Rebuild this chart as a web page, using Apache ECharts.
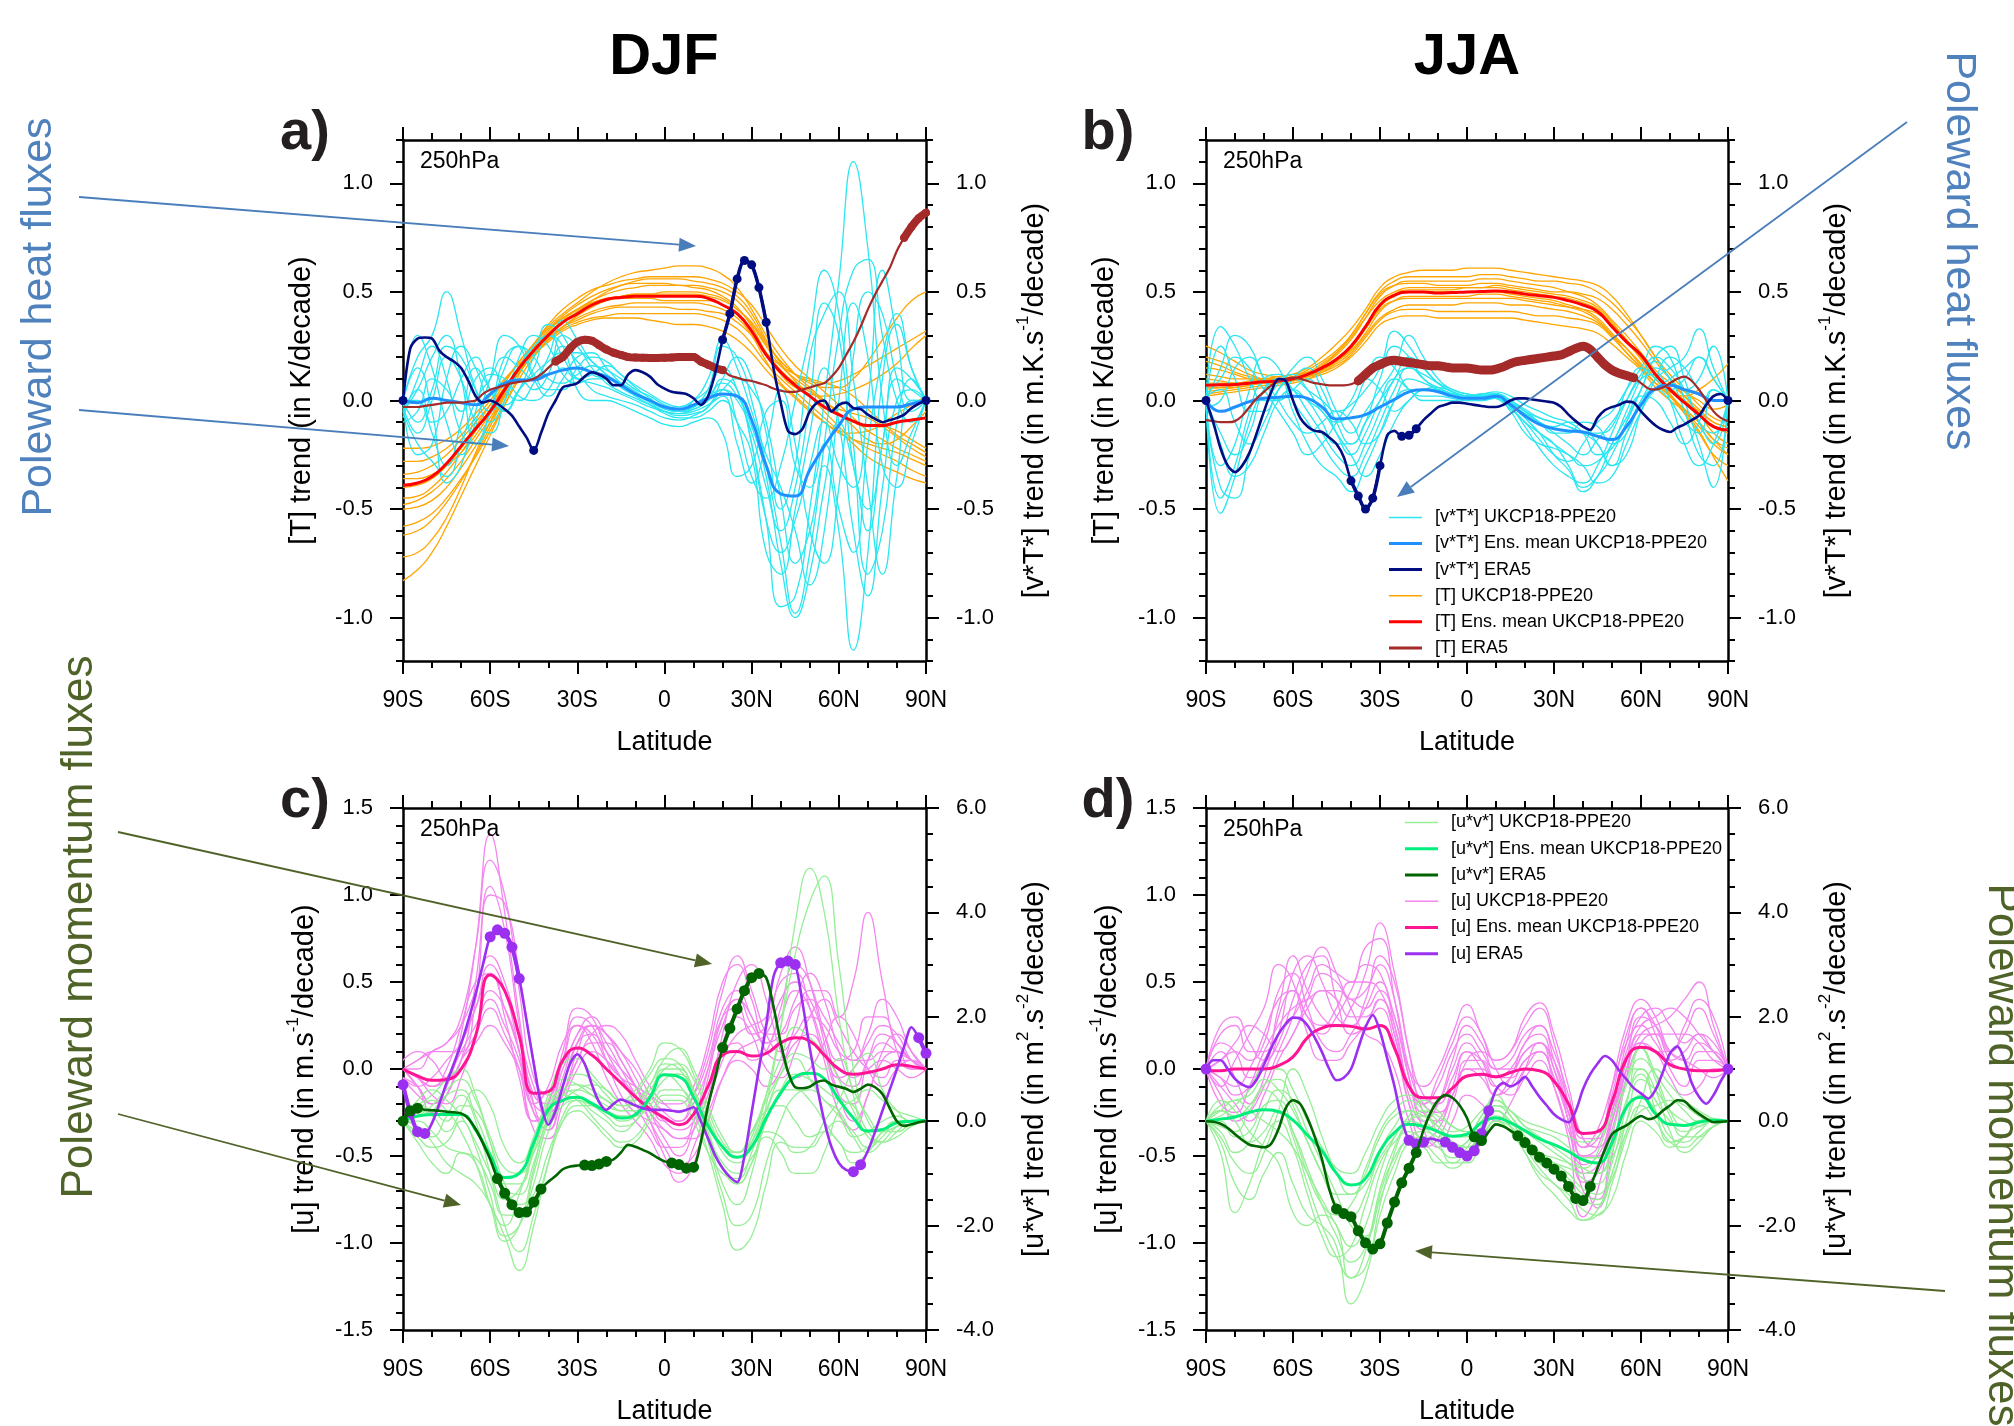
<!DOCTYPE html>
<html><head><meta charset="utf-8">
<script src="https://cdn.jsdelivr.net/npm/echarts@6/dist/echarts.min.js"></script>
<style>html,body{margin:0;padding:0;background:#fff}#c{width:2014px;height:1426px}</style>
</head><body><div id="c"></div>
<script>
// ---------- coordinates / ticks ----------
const lat5 = [-90,-85,-80,-75,-70,-65,-60,-55,-50,-45,-40,-35,-30,-25,-20,-15,-10,-5,0,5,10,15,20,25,30,35,40,45,50,55,60,65,70,75,80,85,90];
const lat25 = [-90,-87.5,-85,-82.5,-80,-77.5,-75,-72.5,-70,-67.5,-65,-62.5,-60,-57.5,-55,-52.5,-50,-47.5,-45,-42.5,-40,-37.5,-35,-32.5,-30,-27.5,-25,-22.5,-20,-17.5,-15,-12.5,-10,-7.5,-5,-2.5,0,2.5,5,7.5,10,12.5,15,17.5,20,22.5,25,27.5,30,32.5,35,37.5,40,42.5,45,47.5,50,52.5,55,57.5,60,62.5,65,67.5,70,72.5,75,77.5,80,82.5,85,87.5,90];
const xTickValues = [-90,-60,-30,0,30,60,90];
const xTickLabels = ['90S','60S','30S','0','30N','60N','90N'];
const yMajorAB = [-1.0,-0.5,0.0,0.5,1.0];

// ---------- panel a (DJF, [T] & [v*T*]) ----------
const tMeanA = [-0.39,-0.38,-0.35,-0.29,-0.21,-0.13,-0.05,0.05,0.15,0.23,0.30,0.36,0.40,0.44,0.465,0.475,0.48,0.48,0.48,0.48,0.48,0.47,0.44,0.40,0.32,0.21,0.13,0.07,0.02,-0.03,-0.065,-0.095,-0.115,-0.115,-0.10,-0.09,-0.08];
const vtMeanA = [0,-0.01,0.01,0.0,-0.01,-0.02,0.03,0.08,0.094,0.095,0.12,0.14,0.15,0.13,0.11,0.07,0.03,0.0,-0.03,-0.04,-0.02,0.01,0.03,0.02,-0.09,-0.3,-0.43,-0.44,-0.32,-0.21,-0.115,-0.04,-0.03,-0.03,-0.03,-0.015,0];
const vtEraA = [0,0.24,0.285,0.29,0.285,0.23,0.2,0.18,0.15,0.09,0.02,-0.01,0.0,-0.015,-0.04,-0.07,-0.12,-0.17,-0.23,-0.15,-0.06,0.0,0.06,0.07,0.08,0.11,0.13,0.12,0.10,0.07,0.07,0.12,0.14,0.13,0.11,0.075,0.055,0.04,0.035,0.03,0.01,-0.02,0.02,0.13,0.28,0.40,0.56,0.645,0.625,0.52,0.36,0.15,-0.01,-0.14,-0.155,-0.13,-0.05,-0.01,0.0,-0.05,-0.02,-0.01,-0.035,-0.04,-0.065,-0.085,-0.1,-0.09,-0.08,-0.065,-0.035,-0.015,0];
const tEraA = [-0.03,-0.03,-0.03,-0.025,-0.02,-0.015,-0.01,-0.01,-0.01,-0.005,0.0,0.03,0.05,0.06,0.07,0.08,0.086,0.09,0.10,0.12,0.15,0.18,0.2,0.24,0.27,0.28,0.275,0.255,0.235,0.22,0.21,0.2,0.198,0.197,0.196,0.196,0.197,0.198,0.2,0.2,0.2,0.18,0.165,0.15,0.14,0.115,0.105,0.095,0.09,0.08,0.07,0.055,0.045,0.04,0.04,0.05,0.06,0.07,0.08,0.11,0.15,0.21,0.27,0.34,0.42,0.49,0.55,0.61,0.69,0.75,0.8,0.84,0.865];
const sigVtA = [[-90,-90],[-45,-45],[20,35],[90,90]];
const sigTA = [[-37.5,20],[82.5,90]];
const tMemA = [
[-0.83,-0.78,-0.70,-0.58,-0.44,-0.30,-0.16,-0.02,0.12,0.24,0.32,0.38,0.42,0.46,0.50,0.53,0.55,0.56,0.56,0.56,0.55,0.54,0.52,0.48,0.40,0.28,0.17,0.09,0.02,-0.05,-0.12,-0.18,-0.22,-0.25,-0.28,-0.32,-0.35],
[-0.72,-0.70,-0.64,-0.54,-0.40,-0.24,-0.10,0.04,0.16,0.26,0.34,0.40,0.45,0.50,0.54,0.57,0.59,0.60,0.61,0.62,0.62,0.61,0.58,0.52,0.42,0.30,0.20,0.12,0.06,0.00,-0.06,-0.10,-0.12,-0.10,-0.06,-0.02,0.02],
[-0.58,-0.56,-0.52,-0.45,-0.36,-0.26,-0.14,-0.02,0.10,0.20,0.28,0.34,0.38,0.41,0.43,0.44,0.45,0.45,0.45,0.45,0.45,0.44,0.42,0.38,0.30,0.18,0.08,0.02,-0.04,-0.10,-0.15,-0.18,-0.20,-0.22,-0.24,-0.27,-0.30],
[-0.50,-0.49,-0.46,-0.40,-0.31,-0.21,-0.10,0.02,0.14,0.24,0.31,0.37,0.42,0.46,0.49,0.51,0.52,0.53,0.53,0.53,0.52,0.51,0.48,0.43,0.34,0.22,0.12,0.06,0.03,0.02,0.03,0.05,0.08,0.12,0.17,0.24,0.30],
[-0.45,-0.44,-0.40,-0.33,-0.24,-0.14,-0.04,0.06,0.15,0.22,0.28,0.33,0.36,0.38,0.39,0.40,0.40,0.40,0.40,0.40,0.40,0.39,0.37,0.33,0.26,0.17,0.10,0.04,-0.02,-0.08,-0.14,-0.20,-0.26,-0.30,-0.33,-0.36,-0.38],
[-0.40,-0.39,-0.36,-0.30,-0.22,-0.12,-0.02,0.08,0.18,0.26,0.33,0.38,0.42,0.45,0.47,0.48,0.49,0.49,0.50,0.50,0.50,0.49,0.47,0.42,0.36,0.26,0.18,0.12,0.08,0.06,0.06,0.10,0.18,0.28,0.38,0.46,0.50],
[-0.34,-0.33,-0.30,-0.25,-0.18,-0.10,-0.02,0.06,0.14,0.21,0.27,0.32,0.35,0.37,0.38,0.38,0.38,0.37,0.36,0.35,0.35,0.34,0.32,0.28,0.22,0.14,0.07,0.01,-0.05,-0.10,-0.14,-0.15,-0.14,-0.12,-0.14,-0.18,-0.22],
[-0.28,-0.28,-0.26,-0.22,-0.16,-0.08,0.00,0.09,0.18,0.26,0.33,0.39,0.44,0.48,0.51,0.53,0.54,0.54,0.54,0.53,0.53,0.52,0.50,0.46,0.38,0.27,0.18,0.12,0.09,0.08,0.09,0.12,0.16,0.20,0.24,0.28,0.32],
[-0.22,-0.22,-0.21,-0.18,-0.13,-0.06,0.02,0.10,0.17,0.23,0.29,0.34,0.37,0.40,0.42,0.43,0.43,0.43,0.43,0.42,0.42,0.41,0.40,0.36,0.30,0.22,0.16,0.12,0.10,0.08,0.06,0.02,-0.04,-0.10,-0.16,-0.20,-0.24],
[-0.62,-0.60,-0.55,-0.47,-0.37,-0.25,-0.12,0.02,0.15,0.26,0.35,0.42,0.47,0.51,0.53,0.55,0.56,0.57,0.57,0.57,0.57,0.56,0.54,0.50,0.44,0.34,0.24,0.16,0.10,0.04,-0.02,-0.08,-0.14,-0.18,-0.22,-0.25,-0.28],
[-0.36,-0.36,-0.34,-0.30,-0.24,-0.16,-0.06,0.04,0.13,0.21,0.28,0.34,0.39,0.43,0.46,0.47,0.47,0.47,0.46,0.46,0.46,0.46,0.44,0.40,0.32,0.22,0.14,0.08,0.04,0.00,-0.06,-0.12,-0.18,-0.20,-0.18,-0.12,-0.05],
[-0.48,-0.46,-0.42,-0.36,-0.28,-0.18,-0.08,0.03,0.13,0.22,0.30,0.36,0.41,0.45,0.47,0.48,0.49,0.49,0.49,0.49,0.49,0.48,0.46,0.42,0.35,0.25,0.16,0.10,0.05,-0.01,-0.04,-0.06,-0.08,-0.12,-0.17,-0.22,-0.26]
];
const vtMemA = [
[0.0,0.20,0.30,0.50,0.30,0.05,-0.10,0.00,0.15,0.25,0.30,0.20,0.10,0.08,0.06,0.03,0.00,-0.03,-0.05,-0.06,-0.04,0.00,0.10,0.05,-0.20,-0.55,-0.95,-0.90,-0.50,0.00,0.55,1.10,0.70,0.00,-0.30,-0.15,0.0],
[-0.05,-0.20,-0.28,-0.35,-0.20,0.00,0.10,0.20,0.15,0.10,0.15,0.25,0.18,0.12,0.10,0.08,0.04,0.00,-0.04,-0.05,-0.03,0.02,0.05,-0.10,-0.35,-0.45,-0.30,0.00,0.30,0.60,0.40,-0.20,-0.80,-0.60,-0.10,0.10,0.0],
[-0.08,0.10,0.25,0.10,-0.15,-0.20,-0.05,0.15,0.25,0.20,0.10,0.08,0.12,0.16,0.14,0.10,0.05,0.02,-0.02,-0.04,-0.02,0.05,0.25,0.20,0.00,-0.30,-0.65,-0.98,-0.70,-0.20,0.30,0.60,0.65,0.30,0.00,-0.10,0.0],
[0.0,-0.10,0.05,0.25,0.20,0.05,-0.05,0.05,0.10,0.05,0.12,0.30,0.25,0.15,0.08,0.04,0.01,-0.02,-0.05,-0.06,-0.05,-0.02,0.02,-0.20,-0.38,-0.20,0.05,-0.20,-0.60,-0.75,-0.40,0.20,0.50,0.40,0.10,-0.05,0.0],
[-0.05,0.05,-0.15,-0.30,-0.10,0.15,0.05,-0.05,0.05,0.20,0.35,0.30,0.15,0.05,0.02,0.00,-0.02,-0.05,-0.08,-0.09,-0.07,-0.03,0.05,0.10,0.05,-0.10,-0.45,-0.75,-0.60,-0.30,-0.60,-1.15,-0.70,0.10,0.35,0.15,0.0],
[0.0,0.30,0.15,-0.10,-0.25,-0.10,0.10,0.30,0.25,0.10,0.02,0.10,0.20,0.22,0.15,0.08,0.03,0.00,-0.03,-0.05,-0.04,0.00,0.05,0.00,-0.15,-0.40,-0.60,-0.40,0.00,0.45,0.30,-0.30,-0.50,-0.20,0.15,0.10,0.0],
[-0.10,-0.05,0.10,0.05,-0.05,0.10,0.15,0.05,0.00,0.08,0.20,0.37,0.28,0.18,0.12,0.06,0.02,-0.02,-0.06,-0.08,-0.08,-0.05,0.00,-0.10,-0.25,-0.70,-0.80,-0.50,-0.15,0.15,-0.10,-0.60,-0.90,-0.40,0.00,0.05,0.0],
[0.0,0.15,-0.05,-0.38,-0.30,-0.05,0.12,0.10,0.02,0.00,0.05,0.15,0.10,0.12,0.16,0.12,0.06,0.01,-0.03,-0.04,0.00,0.10,0.28,0.15,-0.05,-0.25,-0.40,-0.60,-0.85,-0.60,0.00,0.45,0.20,-0.30,-0.40,-0.20,0.0],
[-0.03,-0.15,0.00,0.20,0.10,-0.10,-0.15,0.00,0.20,0.30,0.25,0.12,0.08,0.10,0.10,0.07,0.03,-0.01,-0.05,-0.07,-0.06,-0.03,0.10,0.20,0.10,-0.15,-0.50,-0.30,0.20,0.40,0.50,0.10,-0.40,-0.80,-0.35,0.00,0.0],
[0.0,-0.25,-0.20,0.10,0.25,0.15,0.00,-0.02,0.05,0.15,0.30,0.25,0.05,0.00,0.00,-0.02,-0.05,-0.08,-0.11,-0.12,-0.10,-0.08,-0.15,-0.35,-0.30,-0.05,0.00,-0.30,-0.40,-0.20,-0.50,-0.70,-0.20,0.20,0.40,0.15,0.0],
[-0.05,0.05,0.20,0.30,0.10,-0.20,-0.05,0.20,0.25,0.12,0.05,0.05,0.15,0.20,0.18,0.12,0.07,0.03,-0.01,-0.03,0.00,0.05,0.15,0.05,-0.20,-0.55,-0.70,-0.55,-0.30,-0.10,-0.30,-0.40,0.00,0.60,0.30,0.00,0.0],
[0.0,0.00,-0.10,-0.05,0.10,0.20,0.05,-0.05,0.05,0.12,0.18,0.22,0.22,0.18,0.12,0.08,0.04,0.00,-0.03,-0.04,-0.03,0.02,0.08,0.02,-0.12,-0.35,-0.75,-1.00,-0.80,-0.40,-0.10,-0.30,-0.60,-0.20,0.10,0.05,0.0]
];

// ---------- panel b (JJA, [T] & [v*T*]) ----------
const tMeanB = [0.07,0.072,0.074,0.08,0.086,0.09,0.10,0.12,0.15,0.19,0.25,0.34,0.44,0.485,0.50,0.50,0.495,0.497,0.50,0.502,0.504,0.50,0.49,0.483,0.475,0.46,0.44,0.41,0.34,0.27,0.21,0.12,0.05,-0.01,-0.065,-0.12,-0.135];
const vtMeanB = [0,-0.05,-0.03,-0.005,0.01,0.015,0.02,0.01,-0.03,-0.085,-0.08,-0.065,-0.03,0.005,0.04,0.05,0.04,0.02,0.01,0.01,0.02,-0.02,-0.07,-0.11,-0.13,-0.14,-0.145,-0.165,-0.18,-0.12,-0.02,0.055,0.07,0.05,0.03,0.0,0.0];
const vtEraB = [0,-0.1,-0.22,-0.3,-0.33,-0.3,-0.24,-0.15,-0.05,0.04,0.1,0.09,0.0,-0.08,-0.12,-0.14,-0.145,-0.17,-0.2,-0.26,-0.37,-0.44,-0.5,-0.45,-0.3,-0.16,-0.14,-0.165,-0.16,-0.13,-0.09,-0.06,-0.03,-0.02,-0.01,-0.01,-0.015,-0.02,-0.025,-0.03,-0.03,-0.02,0.0,0.01,0.01,0.005,0.0,-0.005,-0.01,-0.03,-0.065,-0.095,-0.12,-0.135,-0.08,-0.045,-0.03,-0.02,-0.005,-0.01,-0.05,-0.085,-0.115,-0.135,-0.145,-0.125,-0.11,-0.09,-0.07,-0.02,0.02,0.03,0];
const tEraB = [-0.09,-0.095,-0.1,-0.1,-0.095,-0.07,-0.03,0.01,0.04,0.07,0.09,0.1,0.105,0.1,0.09,0.08,0.075,0.07,0.07,0.07,0.075,0.09,0.12,0.15,0.165,0.18,0.185,0.18,0.175,0.17,0.165,0.16,0.16,0.155,0.15,0.15,0.15,0.145,0.14,0.14,0.145,0.155,0.17,0.18,0.185,0.19,0.195,0.2,0.205,0.21,0.225,0.24,0.25,0.235,0.2,0.165,0.14,0.125,0.115,0.105,0.08,0.055,0.05,0.06,0.08,0.1,0.11,0.09,0.05,0.0,-0.05,-0.08,-0.095];
const sigVtB = [[-90,-90],[-40,-30],[-22.5,-17.5],[90,90]];
const sigTB = [[-37.5,57.5]];
const tMemB = [
[0.25,0.22,0.18,0.14,0.12,0.11,0.12,0.15,0.20,0.26,0.33,0.42,0.52,0.57,0.59,0.60,0.60,0.60,0.61,0.61,0.61,0.60,0.59,0.58,0.57,0.56,0.55,0.53,0.48,0.40,0.30,0.20,0.12,0.05,-0.02,-0.08,-0.10],
[0.02,0.03,0.04,0.05,0.06,0.07,0.08,0.10,0.13,0.17,0.22,0.30,0.38,0.42,0.44,0.44,0.44,0.44,0.45,0.45,0.45,0.44,0.44,0.43,0.42,0.41,0.39,0.36,0.30,0.24,0.17,0.10,0.02,-0.06,-0.15,-0.25,-0.30],
[0.15,0.14,0.12,0.10,0.09,0.09,0.10,0.12,0.16,0.21,0.28,0.38,0.48,0.53,0.55,0.55,0.55,0.55,0.55,0.56,0.56,0.55,0.54,0.53,0.52,0.50,0.48,0.44,0.37,0.30,0.22,0.14,0.08,0.02,-0.04,-0.10,-0.12],
[0.05,0.06,0.06,0.07,0.08,0.08,0.09,0.10,0.12,0.15,0.20,0.27,0.35,0.38,0.39,0.39,0.38,0.38,0.38,0.38,0.38,0.38,0.37,0.36,0.35,0.34,0.33,0.31,0.26,0.20,0.14,0.06,0.00,-0.05,-0.12,-0.20,-0.25],
[0.10,0.09,0.08,0.08,0.09,0.10,0.11,0.14,0.18,0.23,0.30,0.40,0.50,0.55,0.57,0.57,0.57,0.57,0.57,0.58,0.58,0.57,0.56,0.55,0.55,0.54,0.53,0.50,0.45,0.38,0.30,0.20,0.10,0.02,-0.06,-0.15,-0.20],
[0.08,0.08,0.08,0.09,0.10,0.11,0.12,0.13,0.15,0.18,0.23,0.31,0.41,0.46,0.48,0.48,0.48,0.48,0.48,0.49,0.49,0.48,0.47,0.46,0.45,0.43,0.41,0.37,0.30,0.22,0.15,0.08,0.04,0.02,0.05,0.10,0.17],
[0.04,0.05,0.06,0.07,0.08,0.09,0.10,0.11,0.13,0.16,0.21,0.29,0.37,0.41,0.42,0.42,0.41,0.41,0.41,0.41,0.41,0.41,0.40,0.39,0.39,0.38,0.37,0.35,0.29,0.22,0.15,0.08,0.02,-0.04,-0.10,-0.18,-0.22],
[0.20,0.18,0.15,0.12,0.10,0.10,0.10,0.12,0.16,0.22,0.30,0.40,0.49,0.53,0.54,0.54,0.53,0.53,0.53,0.54,0.54,0.53,0.52,0.51,0.50,0.50,0.49,0.47,0.42,0.35,0.27,0.18,0.10,0.04,0.00,-0.04,-0.02],
[0.06,0.06,0.07,0.08,0.09,0.10,0.10,0.12,0.14,0.18,0.24,0.34,0.44,0.49,0.51,0.51,0.51,0.51,0.52,0.52,0.52,0.51,0.50,0.49,0.48,0.47,0.45,0.42,0.35,0.27,0.19,0.10,0.03,-0.05,-0.14,-0.26,-0.37],
[0.12,0.11,0.10,0.10,0.10,0.10,0.11,0.13,0.17,0.22,0.29,0.38,0.46,0.50,0.52,0.52,0.52,0.52,0.52,0.52,0.53,0.52,0.51,0.50,0.49,0.48,0.46,0.43,0.36,0.28,0.20,0.12,0.06,0.00,-0.06,-0.12,-0.15],
[0.03,0.04,0.05,0.06,0.07,0.08,0.09,0.11,0.14,0.19,0.25,0.33,0.42,0.46,0.47,0.47,0.47,0.47,0.47,0.47,0.47,0.47,0.46,0.45,0.44,0.43,0.42,0.40,0.35,0.28,0.20,0.12,0.05,0.00,-0.05,-0.10,-0.12],
[0.18,0.16,0.13,0.11,0.10,0.10,0.10,0.11,0.14,0.18,0.24,0.33,0.43,0.48,0.50,0.50,0.50,0.50,0.50,0.50,0.50,0.49,0.48,0.47,0.46,0.44,0.42,0.38,0.31,0.24,0.16,0.08,0.02,-0.04,-0.10,-0.18,-0.25]
];
const vtMemB = [
[0.0,-0.52,-0.35,-0.10,0.05,0.10,0.05,-0.05,-0.15,-0.25,-0.30,-0.20,-0.05,0.10,0.15,0.10,0.05,0.03,0.02,0.02,0.03,-0.02,-0.08,-0.15,-0.20,-0.25,-0.30,-0.28,-0.20,-0.05,0.10,0.20,0.15,0.05,-0.10,-0.20,0.0],
[0.02,0.34,0.25,0.10,0.00,0.00,0.10,0.15,0.05,-0.10,-0.20,-0.10,0.10,0.25,0.20,0.10,0.06,0.03,0.01,0.00,0.02,-0.01,-0.05,-0.10,-0.15,-0.15,-0.10,-0.12,-0.20,-0.15,0.00,0.10,0.15,0.20,0.33,0.15,0.0],
[-0.03,-0.40,-0.45,-0.25,-0.05,0.08,0.12,0.05,-0.05,-0.10,-0.05,0.10,0.20,0.15,0.05,0.02,0.02,0.01,0.00,0.01,0.02,-0.03,-0.10,-0.15,-0.20,-0.30,-0.40,-0.35,-0.25,-0.10,0.05,0.15,0.10,-0.05,-0.25,-0.30,0.0],
[0.0,0.15,0.30,0.25,0.10,0.00,-0.10,-0.15,-0.10,-0.05,-0.10,-0.20,-0.15,0.00,0.10,0.08,0.05,0.03,0.02,0.03,0.03,0.00,-0.05,-0.08,-0.10,-0.12,-0.15,-0.20,-0.30,-0.25,-0.05,0.10,0.20,0.15,0.05,0.00,0.0],
[0.0,-0.30,-0.20,0.05,0.20,0.15,0.00,-0.10,-0.20,-0.30,-0.35,-0.25,-0.10,0.05,0.15,0.12,0.08,0.05,0.03,0.02,0.01,-0.04,-0.10,-0.18,-0.25,-0.28,-0.20,-0.10,-0.05,0.05,0.15,0.25,0.20,0.00,-0.20,-0.40,0.0],
[0.02,0.05,-0.10,-0.20,-0.10,0.05,0.15,0.20,0.10,-0.05,-0.15,-0.05,0.05,0.15,0.30,0.20,0.10,0.05,0.03,0.02,0.03,0.00,-0.05,-0.10,-0.12,-0.10,-0.12,-0.20,-0.30,-0.15,0.00,0.05,0.00,-0.10,-0.15,0.05,0.0],
[-0.02,-0.20,-0.35,-0.30,-0.15,0.00,0.05,0.00,-0.05,-0.15,-0.25,-0.35,-0.25,-0.10,0.00,0.05,0.06,0.04,0.02,0.02,0.02,-0.03,-0.12,-0.22,-0.30,-0.35,-0.38,-0.30,-0.15,0.00,0.12,0.18,0.10,0.05,0.10,0.25,0.0],
[0.0,0.25,0.10,-0.05,-0.05,0.05,0.10,0.05,0.00,-0.05,-0.02,0.05,0.15,0.32,0.25,0.15,0.08,0.04,0.02,0.01,0.01,-0.02,-0.06,-0.10,-0.15,-0.20,-0.25,-0.18,-0.10,0.00,0.10,0.12,0.00,-0.20,-0.30,-0.20,0.0],
[0.0,-0.15,-0.25,-0.15,0.05,0.10,-0.05,-0.20,-0.30,-0.35,-0.42,-0.30,-0.15,0.00,0.05,0.05,0.04,0.02,0.00,0.00,0.01,-0.05,-0.15,-0.20,-0.22,-0.25,-0.30,-0.38,-0.35,-0.20,-0.05,0.05,0.10,0.15,0.20,0.10,0.0],
[0.03,0.10,0.20,0.15,0.05,-0.05,-0.15,-0.25,-0.20,-0.10,0.00,0.10,0.05,-0.05,0.00,0.05,0.05,0.03,0.02,0.03,0.04,0.02,-0.02,-0.05,-0.08,-0.10,-0.15,-0.25,-0.22,-0.10,0.05,0.20,0.25,0.10,-0.10,-0.15,0.0],
[0.0,-0.45,-0.30,-0.05,0.10,0.12,0.05,0.00,-0.10,-0.20,-0.20,-0.10,0.00,0.10,0.20,0.15,0.08,0.04,0.02,0.01,0.02,-0.01,-0.08,-0.15,-0.25,-0.32,-0.42,-0.35,-0.20,-0.08,0.02,0.00,-0.10,-0.20,-0.10,0.05,0.0],
[-0.03,0.00,0.15,0.20,0.10,0.00,0.05,0.10,0.00,-0.15,-0.25,-0.15,0.00,0.10,0.05,0.00,0.00,0.00,0.01,0.02,0.03,0.00,-0.04,-0.08,-0.10,-0.12,-0.15,-0.15,-0.12,0.05,0.15,0.10,0.05,0.10,0.20,0.10,0.0]
];

// ---------- panel c (DJF, [u] & [u*v*]) ----------
const uMeanC = [0.0,-0.04,-0.065,-0.06,0.0,0.19,0.54,0.45,0.19,-0.14,-0.13,0.05,0.12,0.08,0.0,-0.08,-0.16,-0.23,-0.28,-0.32,-0.26,-0.1,0.08,0.1,0.075,0.09,0.15,0.18,0.16,0.08,0.0,-0.03,-0.02,0.0,0.025,0.015,0.0];
const uvMeanC = [0,0.1,0.13,0.13,0.13,-0.17,-0.65,-1.08,-1.0,-0.41,0.22,0.4,0.46,0.34,0.18,0.06,0.13,0.46,0.89,0.85,0.46,-0.09,-0.49,-0.69,-0.49,0.06,0.54,0.85,0.92,0.81,0.42,0.06,-0.19,-0.16,-0.03,0.0,0.02];
const uEraC = [-0.09,-0.25,-0.36,-0.37,-0.31,-0.2,-0.08,0.03,0.145,0.28,0.43,0.6,0.76,0.8,0.78,0.7,0.52,0.28,0.03,-0.2,-0.32,-0.24,-0.1,0.03,0.085,0.03,-0.09,-0.19,-0.235,-0.2,-0.175,-0.19,-0.21,-0.225,-0.235,-0.235,-0.235,-0.24,-0.245,-0.235,-0.22,-0.3,-0.4,-0.5,-0.57,-0.62,-0.65,-0.5,-0.25,0.0,0.25,0.53,0.61,0.62,0.6,0.38,0.12,-0.1,-0.3,-0.45,-0.54,-0.58,-0.59,-0.55,-0.47,-0.36,-0.24,-0.12,0.0,0.13,0.24,0.18,0.09];
const uvEraC = [0.0,0.2,0.25,0.22,0.21,0.2,0.18,0.17,0.15,0.05,-0.15,-0.42,-0.73,-1.1,-1.38,-1.6,-1.75,-1.74,-1.55,-1.3,-1.16,-1.05,-0.92,-0.87,-0.85,-0.84,-0.85,-0.82,-0.77,-0.73,-0.6,-0.45,-0.49,-0.55,-0.61,-0.7,-0.77,-0.8,-0.83,-0.9,-0.88,-0.4,0.3,0.85,1.41,1.78,2.15,2.5,2.75,2.83,2.75,2.2,1.5,0.95,0.65,0.63,0.66,0.75,0.78,0.7,0.66,0.62,0.56,0.62,0.7,0.65,0.52,0.25,0.0,-0.09,-0.06,-0.02,0.0];
const sigUC = [[-90,-82.5],[-60,-50],[40,45],[65,67.5],[87.5,90]];
const sigUvC = [[-90,-85],[-57.5,-42.5],[-27.5,-20],[2.5,10],[20,32.5]];
const uMemC = [
[0.0,-0.10,-0.20,-0.10,0.20,0.70,1.35,0.90,0.30,-0.20,-0.35,-0.10,0.15,0.20,0.10,0.00,-0.10,-0.25,-0.40,-0.50,-0.35,-0.05,0.30,0.40,0.25,0.15,0.30,0.45,0.35,0.10,-0.15,-0.20,0.05,0.20,0.15,0.05,0.0],
[0.0,0.05,0.10,0.10,0.10,0.40,1.00,0.95,0.55,0.05,-0.30,-0.15,0.10,0.25,0.20,0.05,-0.10,-0.30,-0.50,-0.65,-0.55,-0.20,0.20,0.50,0.60,0.40,0.10,-0.05,0.00,0.15,0.30,0.20,0.00,-0.10,0.00,0.05,0.0],
[-0.05,-0.10,-0.05,0.05,0.15,0.35,0.60,0.45,0.10,-0.30,-0.25,0.05,0.30,0.25,0.05,-0.15,-0.25,-0.30,-0.35,-0.40,-0.35,-0.15,0.10,0.15,0.05,0.10,0.35,0.60,0.50,0.20,-0.05,-0.10,0.05,0.15,0.10,0.05,0.0],
[0.0,-0.05,-0.15,-0.20,-0.05,0.20,0.45,0.35,0.10,-0.25,-0.35,-0.15,0.05,0.15,0.15,0.05,-0.10,-0.20,-0.30,-0.35,-0.30,-0.10,0.15,0.30,0.20,0.00,-0.05,0.10,0.30,0.40,0.25,0.10,0.00,-0.05,0.05,0.05,0.0],
[0.05,0.10,0.05,-0.05,0.05,0.50,1.05,0.80,0.25,-0.15,-0.20,0.00,0.20,0.30,0.20,0.10,0.00,-0.15,-0.25,-0.30,-0.15,0.10,0.45,0.65,0.45,0.20,0.10,0.20,0.30,0.25,0.10,0.05,0.20,0.40,0.30,0.10,0.0],
[0.0,-0.05,-0.10,0.00,0.25,0.50,0.55,0.30,-0.05,-0.30,-0.20,0.10,0.35,0.30,0.10,-0.05,-0.20,-0.35,-0.45,-0.45,-0.30,0.00,0.30,0.35,0.20,0.25,0.55,0.70,0.50,0.15,-0.15,-0.30,-0.15,0.10,0.20,0.10,0.0],
[-0.05,-0.10,-0.20,-0.15,0.05,0.20,0.35,0.20,0.00,-0.35,-0.40,-0.20,0.00,0.10,0.05,-0.05,-0.15,-0.25,-0.35,-0.40,-0.40,-0.25,-0.05,0.05,0.00,-0.10,0.00,0.25,0.45,0.45,0.30,0.50,0.90,0.50,0.10,0.00,0.0],
[0.0,0.00,0.10,0.15,0.30,0.70,1.20,1.00,0.45,-0.05,-0.15,0.05,0.25,0.20,0.05,-0.05,-0.10,-0.15,-0.20,-0.20,-0.10,0.15,0.50,0.60,0.40,0.20,0.20,0.35,0.40,0.30,0.15,0.05,0.05,0.10,0.10,0.05,0.0],
[0.0,-0.05,-0.10,-0.05,0.10,0.25,0.40,0.25,0.05,-0.25,-0.30,-0.10,0.15,0.25,0.20,0.10,-0.05,-0.20,-0.30,-0.30,-0.20,0.00,0.25,0.40,0.30,0.10,0.05,0.15,0.20,0.10,-0.05,0.00,0.15,0.25,0.20,0.05,0.0],
[0.0,-0.10,-0.25,-0.15,0.05,0.15,0.25,0.15,0.00,-0.20,-0.10,0.15,0.25,0.15,-0.05,-0.20,-0.30,-0.40,-0.55,-0.60,-0.45,-0.20,0.05,0.20,0.25,0.30,0.50,0.55,0.35,0.05,-0.25,-0.35,-0.15,0.05,0.10,0.00,0.0],
[0.0,0.05,0.10,0.15,0.25,0.45,0.65,0.50,0.20,-0.10,-0.25,-0.15,0.05,0.20,0.25,0.20,0.05,-0.10,-0.20,-0.25,-0.15,0.05,0.35,0.45,0.30,0.15,0.20,0.40,0.55,0.40,0.10,-0.05,0.00,0.05,0.00,-0.05,0.0],
[-0.05,-0.15,-0.20,-0.10,0.15,0.35,0.55,0.35,0.10,-0.20,-0.25,-0.05,0.20,0.25,0.15,0.00,-0.15,-0.30,-0.45,-0.55,-0.50,-0.30,-0.05,0.10,0.15,0.20,0.40,0.50,0.40,0.20,0.05,0.10,0.30,0.30,0.15,0.05,0.0]
];
const uvMemC = [
[0.0,0.30,0.50,0.80,1.00,0.50,-0.40,-1.20,-1.20,-0.50,0.40,0.80,0.70,0.50,0.30,0.20,0.50,0.90,1.20,1.10,0.60,-0.30,-1.20,-1.60,-1.00,0.30,1.80,3.80,4.85,4.00,2.00,0.50,-0.30,-0.40,-0.20,0.00,0.0],
[0.0,-0.30,-0.50,-0.40,0.00,-0.50,-1.40,-2.20,-2.00,-1.20,-0.20,0.30,0.40,0.20,0.00,-0.20,0.00,0.40,0.80,0.90,0.60,0.00,-0.60,-0.80,-0.40,0.50,1.80,3.20,4.20,4.70,3.00,1.00,0.00,-0.20,-0.10,0.00,0.0],
[0.0,0.20,0.40,0.20,-0.20,-0.80,-1.60,-2.00,-1.40,-0.50,0.30,0.60,0.50,0.30,0.20,0.10,0.10,0.30,0.60,0.60,0.30,-0.30,-0.90,-1.20,-0.80,0.00,0.60,0.90,0.80,0.60,0.40,0.30,-0.20,-0.40,-0.30,-0.10,0.0],
[0.0,0.10,0.30,0.60,0.80,0.40,-0.30,-0.90,-1.00,-0.60,0.00,0.40,0.60,0.70,0.60,0.40,0.40,0.70,1.20,1.40,1.00,0.30,-0.30,-0.60,-0.40,0.20,0.60,0.60,0.40,0.00,-0.40,-0.60,-0.50,-0.20,0.00,0.00,0.0],
[0.0,-0.20,-0.30,0.10,0.50,0.00,-1.00,-2.00,-2.50,-1.80,-0.80,0.00,0.30,0.30,0.20,0.00,0.10,0.50,1.00,1.00,0.50,-0.40,-1.40,-2.00,-1.80,-0.80,0.00,0.50,0.60,0.40,0.10,-0.20,-0.50,-0.30,0.00,0.00,0.0],
[0.0,0.40,0.60,0.40,0.10,-0.40,-1.00,-1.50,-1.30,-0.60,0.20,0.70,0.90,0.80,0.50,0.30,0.30,0.60,1.00,1.10,0.80,0.20,-0.40,-0.60,-0.20,0.40,0.90,1.20,0.80,0.40,0.20,-0.30,-0.60,-0.40,-0.10,0.00,0.0],
[0.0,-0.10,-0.40,-0.80,-1.00,-1.20,-1.60,-2.20,-2.86,-2.00,-0.80,0.10,0.40,0.30,0.10,-0.10,0.00,0.40,0.90,0.70,0.20,-0.60,-1.60,-2.47,-2.20,-1.20,-0.40,-0.50,-0.50,-0.20,0.00,-0.30,-0.20,0.00,0.10,0.00,0.0],
[0.0,0.20,0.10,-0.20,0.20,0.60,0.30,-0.50,-0.80,-0.30,0.50,1.10,1.20,0.90,0.60,0.40,0.60,1.00,1.50,1.40,0.90,0.10,-0.50,-0.70,-0.30,0.50,1.20,1.80,1.60,1.30,0.80,0.20,-0.20,-0.20,-0.10,0.00,0.0],
[0.0,0.00,-0.20,-0.50,-0.60,-0.70,-1.20,-1.80,-1.80,-1.00,0.00,0.50,0.40,0.10,-0.20,-0.40,-0.30,0.10,0.50,0.50,0.20,-0.30,-0.80,-1.00,-0.70,-0.30,-0.60,-1.00,-1.00,-0.60,0.20,0.40,0.60,0.40,0.20,0.10,0.0],
[0.0,0.30,0.20,0.00,0.30,0.20,-0.40,-1.20,-1.60,-1.40,-0.60,0.00,0.20,0.00,-0.30,-0.50,-0.40,0.00,0.40,0.40,0.00,-0.60,-1.00,-1.10,-0.60,0.20,0.90,1.30,1.20,1.00,1.20,0.60,0.10,-0.20,-0.20,-0.05,0.0],
[0.0,-0.40,-0.80,-1.00,-0.60,-0.80,-1.60,-2.30,-2.00,-0.90,0.10,0.50,0.60,0.50,0.40,0.20,0.20,0.50,0.90,0.90,0.60,0.00,-0.50,-0.60,-0.20,0.20,0.30,0.00,-0.30,-0.20,-0.40,-0.80,-0.60,-0.20,0.00,0.00,0.0],
[0.0,0.10,0.20,0.50,0.60,0.10,-0.60,-1.30,-1.40,-0.80,0.10,0.60,0.70,0.60,0.40,0.30,0.40,0.70,1.10,1.00,0.50,-0.20,-0.90,-1.20,-0.80,-0.20,-0.30,-0.60,-0.50,0.00,0.40,1.00,1.30,0.60,0.20,0.00,0.0]
];

// ---------- panel d (JJA, [u] & [u*v*]) ----------
const uMeanD = [-0.01,-0.01,0.0,0.0,0.0,0.02,0.07,0.18,0.235,0.25,0.245,0.23,0.25,0.12,-0.1,-0.165,-0.165,-0.11,-0.04,-0.03,-0.045,-0.02,0.0,-0.01,-0.07,-0.2,-0.37,-0.36,-0.19,0.06,0.125,0.1,0.025,0.0,-0.01,-0.01,0.0];
const uvMeanD = [0,0.04,0.08,0.17,0.22,0.18,0.02,-0.27,-0.57,-1.0,-1.22,-1.1,-0.57,-0.22,-0.06,-0.1,-0.2,-0.29,-0.25,-0.03,0.06,-0.03,-0.18,-0.34,-0.45,-0.58,-0.74,-0.8,-0.41,0.27,0.46,0.14,-0.06,-0.08,-0.02,0.02,0];
const uEraD = [0.0,0.05,0.05,0.0,-0.057,-0.09,-0.104,-0.06,0.026,0.12,0.2,0.26,0.295,0.29,0.25,0.18,0.097,0.0,-0.065,-0.05,0.0,0.12,0.24,0.31,0.216,0.06,-0.1,-0.29,-0.41,-0.43,-0.42,-0.4,-0.41,-0.42,-0.45,-0.48,-0.5,-0.47,-0.37,-0.24,-0.12,-0.08,-0.1,-0.08,-0.045,-0.1,-0.16,-0.21,-0.26,-0.29,-0.306,-0.24,-0.116,-0.03,0.03,0.075,0.05,-0.01,-0.06,-0.11,-0.14,-0.17,-0.12,-0.02,0.09,0.13,0.05,-0.08,-0.16,-0.2,-0.15,-0.07,0.0];
const uvEraD = [0.0,-0.01,-0.05,-0.13,-0.25,-0.36,-0.45,-0.48,-0.5,-0.43,-0.15,0.25,0.4,0.33,0.06,-0.3,-0.73,-1.3,-1.68,-1.77,-1.83,-2.1,-2.33,-2.45,-2.35,-1.95,-1.55,-1.18,-0.9,-0.6,-0.17,0.17,0.4,0.5,0.45,0.3,0.06,-0.3,-0.37,-0.2,-0.06,-0.1,-0.18,-0.28,-0.41,-0.55,-0.69,-0.8,-0.92,-1.05,-1.25,-1.48,-1.52,-1.25,-0.9,-0.55,-0.25,-0.15,-0.08,0.02,0.1,0.04,0.08,0.2,0.3,0.4,0.38,0.25,0.14,0.05,-0.02,-0.01,0.0];
const sigUD = [[-90,-90],[-20,-15],[-7.5,7.5],[90,90]];
const sigUvD = [[-45,-17.5],[2.5,5],[17.5,42.5]];
const uMemD = [
[0.0,0.20,0.25,0.10,0.10,0.35,0.65,0.45,0.30,0.25,0.35,0.55,0.84,0.55,0.10,-0.25,-0.30,-0.10,0.10,0.00,-0.15,-0.05,0.15,0.20,0.00,-0.30,-0.60,-0.55,-0.25,0.15,0.35,0.25,0.05,0.00,0.10,0.10,0.0],
[0.0,-0.15,-0.30,-0.25,-0.10,0.10,0.30,0.55,0.70,0.55,0.35,0.20,0.15,0.00,-0.30,-0.45,-0.40,-0.20,0.05,0.10,0.05,0.10,0.25,0.35,0.15,-0.20,-0.50,-0.45,-0.10,0.25,0.40,0.30,0.10,0.05,0.15,0.10,0.0],
[0.0,0.10,-0.05,-0.20,-0.05,0.30,0.45,0.30,0.20,0.30,0.45,0.60,0.55,0.25,-0.10,-0.20,-0.05,0.15,0.30,0.20,0.00,-0.10,0.00,0.10,-0.05,-0.30,-0.70,-0.75,-0.40,0.00,0.20,0.25,0.30,0.40,0.50,0.25,0.0],
[0.0,-0.10,0.05,0.20,0.35,0.60,0.50,0.20,0.05,0.05,0.15,0.25,0.35,0.15,-0.20,-0.35,-0.30,-0.15,0.00,0.00,-0.10,-0.15,-0.05,0.05,-0.10,-0.35,-0.55,-0.50,-0.30,0.00,0.15,0.10,-0.05,-0.15,-0.10,0.00,0.0],
[0.0,0.05,0.15,0.25,0.20,0.10,0.20,0.40,0.55,0.50,0.40,0.45,0.60,0.40,0.00,-0.20,-0.25,-0.15,0.05,0.05,-0.05,0.00,0.15,0.25,0.10,-0.15,-0.40,-0.40,-0.20,0.10,0.30,0.35,0.25,0.15,0.20,0.15,0.0],
[0.0,-0.20,-0.25,-0.10,0.10,0.25,0.35,0.40,0.45,0.40,0.30,0.30,0.40,0.20,-0.15,-0.30,-0.20,0.05,0.25,0.15,0.00,0.05,0.20,0.25,0.05,-0.25,-0.60,-0.80,-0.50,-0.05,0.20,0.20,0.10,0.20,0.35,0.20,0.0],
[0.0,0.15,0.10,-0.05,0.00,0.20,0.55,0.65,0.50,0.30,0.25,0.40,0.65,0.50,0.10,-0.15,-0.20,-0.05,0.10,0.05,-0.05,-0.05,0.05,0.10,-0.05,-0.25,-0.45,-0.40,-0.15,0.20,0.35,0.20,0.00,-0.10,0.05,0.05,0.0],
[0.0,-0.05,-0.15,-0.10,0.05,0.20,0.30,0.45,0.60,0.55,0.50,0.70,0.75,0.40,-0.05,-0.35,-0.45,-0.30,-0.15,-0.20,-0.30,-0.20,0.00,0.15,0.05,-0.20,-0.45,-0.35,-0.10,0.15,0.25,0.15,0.05,0.10,0.20,0.10,0.0],
[0.0,0.05,0.10,0.05,0.15,0.45,0.55,0.35,0.15,0.10,0.20,0.35,0.50,0.30,0.00,-0.10,0.00,0.20,0.37,0.20,0.05,0.10,0.30,0.38,0.20,-0.10,-0.40,-0.45,-0.25,0.05,0.25,0.30,0.35,0.30,0.20,0.10,0.0],
[0.0,-0.10,-0.20,-0.30,-0.15,0.05,0.20,0.35,0.45,0.45,0.40,0.35,0.45,0.30,-0.05,-0.25,-0.20,0.00,0.15,0.05,-0.10,-0.05,0.10,0.15,-0.10,-0.40,-0.85,-0.70,-0.30,0.05,0.30,0.25,0.10,0.05,0.00,-0.05,0.0],
[0.0,0.25,0.30,0.15,0.05,0.15,0.40,0.60,0.65,0.40,0.20,0.25,0.40,0.25,-0.10,-0.20,-0.10,0.10,0.20,0.10,0.00,0.00,0.10,0.15,0.00,-0.25,-0.50,-0.50,-0.30,0.00,0.15,0.10,0.10,0.25,0.40,0.30,0.0],
[0.0,-0.05,-0.10,0.00,0.20,0.40,0.45,0.30,0.25,0.35,0.50,0.50,0.45,0.20,-0.20,-0.40,-0.35,-0.15,0.00,-0.05,-0.15,-0.10,0.05,0.10,-0.05,-0.30,-0.65,-0.60,-0.35,-0.05,0.15,0.20,0.20,0.20,0.15,0.05,0.0]
];
const uvMemD = [
[0.0,-0.40,-1.20,-1.50,-1.00,-0.60,-1.20,-1.80,-2.00,-2.40,-3.50,-3.00,-1.80,-1.00,-0.40,-0.30,-0.50,-0.70,-0.60,-0.20,0.20,0.00,-0.40,-0.80,-1.00,-1.20,-1.50,-1.60,-1.00,0.00,0.80,0.60,0.20,0.00,-0.10,0.00,0.0],
[0.0,0.30,0.40,0.50,0.80,0.60,0.20,-0.40,-1.00,-1.60,-1.80,-1.40,-0.60,-0.10,0.20,0.10,-0.10,-0.30,-0.30,0.00,0.20,0.00,-0.20,-0.40,-0.60,-0.80,-1.10,-1.20,-0.60,0.40,0.90,0.40,0.00,-0.20,-0.10,0.00,0.0],
[0.0,-0.20,-0.60,-0.40,0.20,0.60,0.40,-0.20,-0.80,-1.40,-2.00,-2.20,-1.50,-0.80,-0.30,-0.20,-0.30,-0.50,-0.40,0.00,0.30,0.10,-0.30,-0.60,-0.80,-1.00,-1.30,-1.40,-0.80,0.30,1.40,0.80,0.10,-0.30,-0.30,-0.10,0.0],
[0.0,0.20,0.00,-0.40,-0.20,0.20,-0.20,-0.90,-1.60,-2.20,-2.70,-2.40,-1.30,-0.50,0.00,0.10,-0.10,-0.40,-0.50,-0.20,0.10,-0.10,-0.50,-0.90,-1.20,-1.40,-1.70,-1.80,-1.20,-0.20,0.30,0.00,-0.40,-0.50,-0.30,-0.10,0.0],
[0.0,0.10,0.30,0.60,1.00,1.00,0.60,0.00,-0.50,-0.90,-1.00,-0.60,0.00,0.40,0.50,0.30,0.00,-0.20,-0.10,0.20,0.40,0.20,-0.10,-0.20,-0.30,-0.50,-0.70,-0.70,-0.20,0.70,1.20,0.90,0.50,0.20,0.00,0.00,0.0],
[0.0,-0.60,-1.75,-1.20,-0.40,0.00,-0.50,-1.40,-2.20,-2.60,-2.40,-1.60,-0.80,-0.40,-0.20,-0.40,-0.70,-0.90,-0.70,-0.30,0.00,-0.20,-0.60,-1.00,-1.20,-1.50,-1.90,-1.70,-1.00,-0.20,0.20,0.30,0.40,0.30,0.10,0.00,0.0],
[0.0,0.00,-0.30,-0.20,0.30,0.40,-0.20,-1.00,-1.60,-1.80,-1.60,-1.00,-0.30,0.10,0.20,0.00,-0.20,-0.40,-0.50,-0.30,0.00,-0.20,-0.50,-0.70,-0.80,-0.90,-1.00,-1.00,-0.50,0.40,1.00,0.60,-0.20,-0.60,-0.40,-0.10,0.0],
[0.0,0.40,0.20,-0.20,-0.50,-0.80,-1.75,-2.00,-1.80,-2.00,-3.00,-2.80,-1.60,-0.60,0.00,0.20,0.10,-0.10,-0.20,0.00,0.30,0.20,-0.10,-0.30,-0.50,-0.70,-0.90,-1.00,-0.70,0.00,0.50,0.20,-0.30,-0.40,-0.20,0.00,0.0],
[0.0,-0.30,-0.80,-1.00,-0.60,0.20,1.00,0.50,-0.30,-1.00,-1.40,-1.20,-0.70,-0.30,0.00,-0.10,-0.40,-0.80,-0.80,-0.40,0.00,-0.10,-0.40,-0.70,-0.90,-1.10,-1.40,-1.50,-1.10,-0.30,0.40,1.00,0.70,0.40,0.20,0.05,0.0],
[0.0,0.20,0.40,0.20,0.00,-0.20,-0.50,-1.00,-1.50,-2.00,-2.40,-2.00,-1.00,-0.30,0.10,0.40,0.20,-0.10,-0.20,0.10,0.50,0.10,-0.30,-0.60,-0.70,-0.80,-0.90,-0.60,0.30,1.00,1.00,0.20,-0.40,-0.30,0.00,0.05,0.0],
[0.0,-0.10,-0.20,0.20,0.60,0.40,-0.30,-1.20,-2.00,-2.60,-3.00,-2.50,-1.40,-0.70,-0.40,-0.50,-0.80,-0.80,-0.50,-0.10,0.20,-0.10,-0.60,-1.10,-1.40,-1.70,-1.90,-1.80,-1.50,-0.60,0.00,-0.20,-0.50,-0.30,0.00,0.00,0.0],
[0.0,0.20,0.10,0.30,0.70,0.80,0.30,-0.40,-1.00,-1.40,-1.40,-0.90,-0.20,0.20,0.40,0.20,-0.20,-0.50,-0.40,0.10,0.40,0.20,0.00,-0.10,-0.20,-0.30,-0.40,-0.30,0.10,0.80,1.40,0.90,0.20,-0.10,0.00,0.00,0.0]
];

// ---------- styling ----------
const F = '"Liberation Sans", Arial, Helvetica, sans-serif';
const COL = {
  vtMem:'#2ae6f0', vtMean:'#1e90ff', vtEra:'#000d80',
  tMem:'#ffa500', tMean:'#ff0000', tEra:'#a52a2a',
  uvMem:'#96ee96', uvMean:'#00ee7c', uvEra:'#006400',
  uMem:'#f486ef', uMean:'#ff1493', uEra:'#9b30f0'
};
const panels = [
  {left:403, top:140, w:523, h:521, yl:[-1.2,1.2], yr:[-1.2,1.2], ab:true},
  {left:1206, top:140, w:522, h:521, yl:[-1.2,1.2], yr:[-1.2,1.2], ab:true},
  {left:403, top:808, w:523, h:522, yl:[-1.5,1.5], yr:[-4,6], ab:false},
  {left:1206, top:808, w:522, h:522, yl:[-1.5,1.5], yr:[-4,6], ab:false}
];

const grids=[], xAxes=[], yAxes=[], series=[];
const lineBlack = {color:'#000', width:2.5};
const tickBlack = {color:'#000', width:2};
panels.forEach((p,i)=>{
  grids.push({left:p.left, top:p.top, width:p.w, height:p.h, containLabel:false});
  const xb = {gridIndex:i, type:'value', min:-90, max:90, interval:30,
    axisLine:{show:true,onZero:false,lineStyle:lineBlack},
    axisTick:{show:true,length:13,lineStyle:tickBlack},
    minorTick:{show:true,splitNumber:3,length:7,lineStyle:tickBlack},
    splitLine:{show:false}, minorSplitLine:{show:false}};
  xAxes.push(Object.assign({}, xb, {position:'bottom',
    axisLabel:{show:true, margin:28, fontSize:23, color:'#000', fontFamily:F,
      formatter:v=>{const k=xTickValues.indexOf(v); return k>=0?xTickLabels[k]:'';}}}));
  xAxes.push(Object.assign({}, xb, {position:'top', axisLabel:{show:false}}));
  ['left','right'].forEach(side=>{
    const rng = side==='left'?p.yl:p.yr;
    const major = {gridIndex:i, type:'value', position:side, min:rng[0], max:rng[1],
      axisLine:{show:true,onZero:false,lineStyle:lineBlack},
      axisTick:{show:true,length:13,lineStyle:tickBlack},
      axisLabel:{show:true, margin:30, fontSize:22, color:'#000', fontFamily:F, formatter:v=>Number(v).toFixed(1)},
      splitLine:{show:false}};
    if(p.ab){
      major.axisTick.customValues = yMajorAB;
      major.axisLabel.customValues = yMajorAB;
    } else {
      major.interval = side==='left'?0.5:2;
    }
    yAxes.push(major);
    yAxes.push({gridIndex:i, type:'value', position:side, min:rng[0], max:rng[1],
      interval: (side==='right' && !p.ab)?0.5:0.1,
      axisLine:{show:false,onZero:false}, axisTick:{show:true,length:7,lineStyle:tickBlack},
      axisLabel:{show:false}, splitLine:{show:false}});
  });
});

function zip(xs, ys){ return xs.map((x,k)=>[x, ys[k]]); }
function sigData(xs, ys, ranges){
  return xs.map((x,k)=> ranges.some(r=> x>=r[0]-1e-6 && x<=r[1]+1e-6) ? [x, ys[k]] : [x, null]);
}
function addLine(pi, side, xs, ys, color, width, z, smooth){
  series.push({type:'line', xAxisIndex:2*pi, yAxisIndex:4*pi+(side==='left'?0:2),
    data:zip(xs,ys), showSymbol:false, smooth:smooth, silent:true, z:z,
    lineStyle:{color:color, width:width}, animation:false});
}
function addSig(pi, side, xs, ys, ranges, color, width, size, z){
  series.push({type:'line', xAxisIndex:2*pi, yAxisIndex:4*pi+(side==='left'?0:2),
    data:sigData(xs,ys,ranges), showSymbol:true, showAllSymbol:true, symbol:'circle', symbolSize:size,
    itemStyle:{color:color}, smooth:0.3, connectNulls:false, silent:true, z:z, clip:false,
    lineStyle:{color:color, width:width, cap:'round'}, animation:false});
}

// panel a
tMemA.forEach(m=>addLine(0,'left',lat5,m,COL.tMem,1.3,2,0.5));
vtMemA.forEach(m=>addLine(0,'right',lat5,m,COL.vtMem,1.3,3,0.5));
addLine(0,'left',lat5,tMeanA,COL.tMean,3,5,0.5);
addLine(0,'right',lat5,vtMeanA,COL.vtMean,3,6,0.5);
addLine(0,'left',lat25,tEraA,COL.tEra,2.2,7,0.3);
addSig(0,'left',lat25,tEraA,sigTA,COL.tEra,8,8,8);
addLine(0,'right',lat25,vtEraA,COL.vtEra,2.6,9,0.3);
addSig(0,'right',lat25,vtEraA,sigVtA,COL.vtEra,3.5,9,10);
// panel b
tMemB.forEach(m=>addLine(1,'left',lat5,m,COL.tMem,1.3,2,0.5));
vtMemB.forEach(m=>addLine(1,'right',lat5,m,COL.vtMem,1.3,3,0.5));
addLine(1,'left',lat5,tMeanB,COL.tMean,3,5,0.5);
addLine(1,'right',lat5,vtMeanB,COL.vtMean,3,6,0.5);
addLine(1,'left',lat25,tEraB,COL.tEra,2.2,7,0.3);
addSig(1,'left',lat25,tEraB,sigTB,COL.tEra,9,8,8);
addLine(1,'right',lat25,vtEraB,COL.vtEra,2.6,9,0.3);
addSig(1,'right',lat25,vtEraB,sigVtB,COL.vtEra,3.5,9,10);
// panel c
uMemC.forEach(m=>addLine(2,'left',lat5,m,COL.uMem,1.3,2,0.5));
uvMemC.forEach(m=>addLine(2,'right',lat5,m,COL.uvMem,1.3,3,0.5));
addLine(2,'left',lat5,uMeanC,COL.uMean,3,5,0.5);
addLine(2,'right',lat5,uvMeanC,COL.uvMean,3,6,0.5);
addLine(2,'left',lat25,uEraC,COL.uEra,2.6,7,0.3);
addSig(2,'left',lat25,uEraC,sigUC,COL.uEra,4,11,8);
addLine(2,'right',lat25,uvEraC,COL.uvEra,2.6,9,0.3);
addSig(2,'right',lat25,uvEraC,sigUvC,COL.uvEra,4,11,10);
// panel d
uMemD.forEach(m=>addLine(3,'left',lat5,m,COL.uMem,1.3,2,0.5));
uvMemD.forEach(m=>addLine(3,'right',lat5,m,COL.uvMem,1.3,3,0.5));
addLine(3,'left',lat5,uMeanD,COL.uMean,3,5,0.5);
addLine(3,'right',lat5,uvMeanD,COL.uvMean,3,6,0.5);
addLine(3,'left',lat25,uEraD,COL.uEra,2.6,7,0.3);
addSig(3,'left',lat25,uEraD,sigUD,COL.uEra,4,11,8);
addLine(3,'right',lat25,uvEraD,COL.uvEra,2.6,9,0.3);
addSig(3,'right',lat25,uvEraD,sigUvD,COL.uvEra,4,11,10);

// ---------- graphics: texts, legends, arrows ----------
const G = [];
function txt(x,y,text,size,opts){
  opts = opts||{};
  G.push({type:'text', x:x, y:y, rotation:opts.rot||0, z:100,
    style:{text:text, fontSize:size, fontFamily:opts.font||F, fontWeight:opts.weight||'normal',
      fill:opts.color||'#000', align:opts.align||'center', verticalAlign:'middle',
      rich:opts.rich}});
}
const supRich = {n:{fontSize:29, fontFamily:F, fill:'#000', lineHeight:34, verticalAlign:'bottom'},
                 s:{fontSize:17, fontFamily:F, fill:'#000', lineHeight:34, verticalAlign:'top', padding:[0,0,0,0]}};
txt(664,58,'DJF',58,{weight:'bold'});
txt(1467,58,'JJA',58,{weight:'bold'});
[['a)',0],['b)',1],['c)',2],['d)',3]].forEach(([t,i])=>{
  const p=panels[i];
  txt(p.left-98, p.top-6, t, 56, {weight:'bold', color:'#231f20'});
  txt(p.left+17, p.top+22, '250hPa', 23, {align:'left'});
  txt(p.left+p.w/2, p.top+p.h+82, 'Latitude', 27);
});
const leftTitles = ['[T] trend (in K/decade)','[T] trend (in K/decade)','{n|[u] trend (in m.s}{s|-1}{n|/decade)}','{n|[u] trend (in m.s}{s|-1}{n|/decade)}'];
const rightTitles = ['{n|[v*T*] trend (in m.K.s}{s|-1}{n|/decade)}','{n|[v*T*] trend (in m.K.s}{s|-1}{n|/decade)}','{n|[u*v*] trend (in m}{s|2}{n|.s}{s|-2}{n|/decade)}','{n|[u*v*] trend (in m}{s|2}{n|.s}{s|-2}{n|/decade)}'];
panels.forEach((p,i)=>{
  const cy = p.top+p.h/2;
  txt(p.left-101, cy, leftTitles[i], 29, {rot:Math.PI/2, rich:supRich});
  txt(p.left+p.w+106, cy, rightTitles[i], 29, {rot:Math.PI/2, rich:supRich});
});
// side annotations
txt(39,317,'Poleward heat fluxes',43,{rot:Math.PI/2, color:'#4f81bd'});
txt(1959,251,'Poleward heat fluxes',43,{rot:-Math.PI/2, color:'#4f81bd'});
txt(80,927,'Poleward momentum fluxes',44,{rot:Math.PI/2, color:'#4f6228'});
txt(2001,1155,'Poleward momentum fluxes',44,{rot:-Math.PI/2, color:'#4f6228'});
// arrows
function arrow(x1,y1,x2,y2,color){
  const dx=x2-x1, dy=y2-y1, len=Math.hypot(dx,dy), ux=dx/len, uy=dy/len, L=17, W=7;
  const bx=x2-ux*L, by=y2-uy*L;
  G.push({type:'line', z:101, shape:{x1:x1,y1:y1,x2:bx,y2:by}, style:{stroke:color, lineWidth:1.8}});
  G.push({type:'polygon', z:101, shape:{points:[[x2,y2],[bx-uy*W,by+ux*W],[bx+uy*W,by-ux*W]]}, style:{fill:color}});
}
const blue='#4a7ebb', olive='#4f6228';
arrow(79,197,696,246,blue);
arrow(79,410,509,446,blue);
arrow(1907,122,1397,497,blue);
arrow(118,832,712,964,olive);
arrow(118,1114,461,1205,olive);
arrow(1945,1291,1415,1251,olive);
// legends
function legend(x0,y0,dy,items){
  items.forEach((it,k)=>{
    const y=y0+k*dy;
    G.push({type:'line', z:100, shape:{x1:x0,y1:y,x2:x0+33,y2:y}, style:{stroke:it[1], lineWidth:it[2]}});
    txt(x0+46, y, it[0], 18, {align:'left'});
  });
}
legend(1389,517.4,26.1,[
  ['[v*T*] UKCP18-PPE20',COL.vtMem,1.5],
  ['[v*T*] Ens. mean UKCP18-PPE20',COL.vtMean,3],
  ['[v*T*] ERA5',COL.vtEra,3],
  ['[T] UKCP18-PPE20',COL.tMem,1.5],
  ['[T] Ens. mean UKCP18-PPE20',COL.tMean,3],
  ['[T] ERA5',COL.tEra,3]
]);
legend(1405,822.5,26.25,[
  ['[u*v*] UKCP18-PPE20',COL.uvMem,1.5],
  ['[u*v*] Ens. mean UKCP18-PPE20',COL.uvMean,3],
  ['[u*v*] ERA5',COL.uvEra,3],
  ['[u] UKCP18-PPE20',COL.uMem,1.5],
  ['[u] Ens. mean UKCP18-PPE20',COL.uMean,3],
  ['[u] ERA5',COL.uEra,3]
]);

const chart = echarts.init(document.getElementById('c'), null, {renderer:'canvas', width:2014, height:1426});
chart.setOption({
  animation:false, backgroundColor:'#ffffff',
  textStyle:{fontFamily:F},
  grid:grids, xAxis:xAxes, yAxis:yAxes, series:series, graphic:G
});
</script></body></html>
